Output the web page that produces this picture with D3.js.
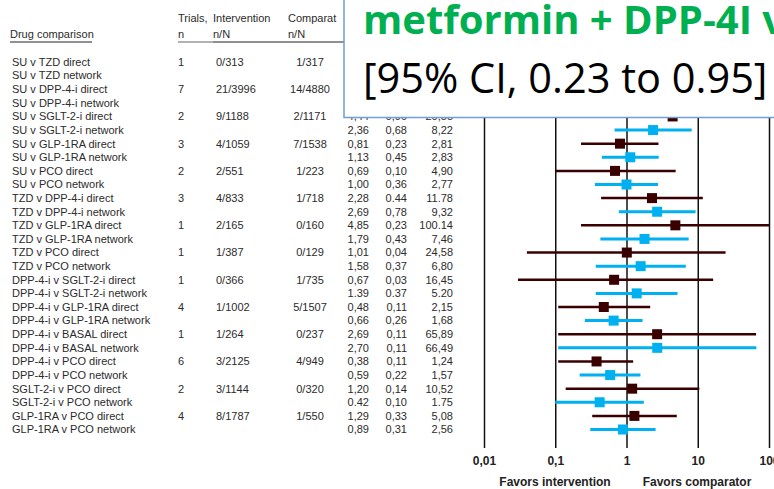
<!DOCTYPE html>
<html>
<head>
<meta charset="utf-8">
<script src="https://cdn.jsdelivr.net/npm/d3@7"></script>
<style>
body { margin: 0; background: #fff; }
text { font-family: "Liberation Sans", Arial, sans-serif; }
.row { font-size: 11px; fill: #2b2b2b; }
.axis text { font-family: "Liberation Sans", Arial, sans-serif; font-size: 12px; font-weight: bold; fill: #222; }
.favors { font-size: 12px; font-weight: bold; fill: #222; }
</style>
</head>
<body>
<div id="chart"></div>
<script>
// rows of the forest plot, top to bottom
var labels = ["SU v TZD direct", "SU v TZD network", "SU v DPP-4-i direct", "SU v DPP-4-i network",
    "SU v SGLT-2-i direct", "SU v SGLT-2-i network", "SU v GLP-1RA direct", "SU v GLP-1RA network",
    "SU v PCO direct", "SU v PCO network", "TZD v DPP-4-i direct", "TZD v DPP-4-i network",
    "TZD v GLP-1RA direct", "TZD v GLP-1RA network", "TZD v PCO direct", "TZD v PCO network",
    "DPP-4-i v SGLT-2-i direct", "DPP-4-i v SGLT-2-i network", "DPP-4-i v GLP-1RA direct", "DPP-4-i v GLP-1RA network",
    "DPP-4-i v BASAL direct", "DPP-4-i v BASAL network", "DPP-4-i v PCO direct", "DPP-4-i v PCO network",
    "SGLT-2-i v PCO direct", "SGLT-2-i v PCO network", "GLP-1RA v PCO direct", "GLP-1RA v PCO network"];
var trials = ["1", "", "7", "", "2", "", "3", "", "2", "", "3", "", "1", "", "1", "", "1", "", "4", "", "1", "", "6", "", "2", "", "4", ""];
var interventionN = ["0/313", "", "21/3996", "", "9/1188", "", "4/1059", "", "2/551", "", "4/833", "", "2/165", "", "1/387", "",
    "0/366", "", "1/1002", "", "1/264", "", "3/2125", "", "3/1144", "", "8/1787", ""];
var comparatorN = ["1/317", "", "14/4880", "", "2/1171", "", "7/1538", "", "1/223", "", "1/718", "", "0/160", "", "0/129", "",
    "1/735", "", "5/1507", "", "0/237", "", "4/949", "", "0/320", "", "1/550", ""];
// odds ratio and 95% CI (first rows sit under the overlay box, values estimated)
var orValues = [0.34, 0.72, 1.83, 1.75, 4.44, 2.36, 0.81, 1.13, 0.69, 1.00, 2.28, 2.69, 4.85, 1.79,
    1.01, 1.58, 0.67, 1.39, 0.48, 0.66, 2.69, 2.70, 0.38, 0.59, 1.20, 0.42, 1.29, 0.89];
var lowValues = [0.01, 0.21, 0.92, 0.86, 0.96, 0.68, 0.23, 0.45, 0.10, 0.36, 0.44, 0.78, 0.23, 0.43,
    0.04, 0.37, 0.03, 0.37, 0.11, 0.26, 0.11, 0.11, 0.11, 0.22, 0.14, 0.10, 0.33, 0.31];
var highValues = [8.35, 2.46, 3.64, 3.56, 20.55, 8.22, 2.81, 2.83, 4.90, 2.77, 11.78, 9.32, 100.14, 7.46,
    24.58, 6.80, 16.45, 5.20, 2.15, 1.68, 65.89, 66.49, 1.24, 1.57, 10.52, 1.75, 5.08, 2.56];
// printed text as in the table (mixed decimal marks); the first four rows are covered by the box
var orText = ["", "", "", "", "4,44", "2,36", "0,81", "1,13", "0,69", "1,00", "2,28", "2,69", "4,85", "1,79",
    "1,01", "1,58", "0,67", "1.39", "0,48", "0,66", "2,69", "2,70", "0,38", "0,59", "1,20", "0.42", "1,29", "0,89"];
var lowText = ["", "", "", "", "0,96", "0,68", "0,23", "0,45", "0,10", "0,36", "0.44", "0,78", "0,23", "0,43",
    "0,04", "0,37", "0,03", "0.37", "0,11", "0,26", "0,11", "0,11", "0,11", "0,22", "0,14", "0,10", "0,33", "0,31"];
var highText = ["", "", "", "", "20,55", "8,22", "2,81", "2,83", "4,90", "2,77", "11.78", "9,32", "100.14", "7,46",
    "24,58", "6,80", "16,45", "5.20", "2,15", "1,68", "65,89", "66,49", "1,24", "1,57", "10,52", "1.75", "5,08", "2,56"];
var tickVals = [0.01, 0.1, 1, 10, 100];
var tickLabels = ["0,01", "0,1", "1", "10", "100"];

var w = 774, h = 489;
var svg = d3.select("#chart").append("svg").attr("width", w).attr("height", h);

var yScale = d3.scalePoint().domain(d3.range(labels.length)).range([62, 429.5]);
var xScale = d3.scaleLog().domain([0.01, 100]).range([484, 769]);
var axisY = 448;

// header
svg.append("text").attr("class", "row").attr("x", 10).attr("y", 38).text("Drug comparison");
svg.append("line").attr("x1", 10).attr("x2", 92).attr("y1", 42).attr("y2", 42).attr("stroke", "#222").attr("stroke-width", 1);
svg.append("text").attr("class", "row").attr("x", 178).attr("y", 22).text("Trials,");
svg.append("text").attr("class", "row").attr("x", 178).attr("y", 38).text("n");
svg.append("text").attr("class", "row").attr("x", 213).attr("y", 22).text("Intervention");
svg.append("text").attr("class", "row").attr("x", 213).attr("y", 38).text("n/N");
svg.append("text").attr("class", "row").attr("x", 288).attr("y", 22).text("Comparat");
svg.append("text").attr("class", "row").attr("x", 288).attr("y", 38).text("n/N");
svg.append("line").attr("x1", 178).attr("x2", 213).attr("y1", 42).attr("y2", 42).attr("stroke", "#999").attr("stroke-width", 1.5);
svg.append("line").attr("x1", 213).attr("x2", 344).attr("y1", 42).attr("y2", 42).attr("stroke", "#222").attr("stroke-width", 1.2);

// table columns
var rows = svg.append("g").selectAll("g").data(labels).enter().append("g")
    .attr("transform", function(d, i) { return "translate(0," + yScale(i) + ")"; });
rows.append("text").attr("class", "row").attr("x", 12).attr("dy", "0.35em").text(function(d) { return d; });
rows.append("text").attr("class", "row").attr("x", 178).attr("dy", "0.35em").text(function(d, i) { return trials[i]; });
rows.append("text").attr("class", "row").attr("x", 216).attr("dy", "0.35em").text(function(d, i) { return interventionN[i]; });
rows.append("text").attr("class", "row").attr("x", 310).attr("dy", "0.35em").attr("text-anchor", "middle").text(function(d, i) { return comparatorN[i]; });
rows.append("text").attr("class", "row").attr("x", 369).attr("dy", "0.35em").attr("text-anchor", "end").text(function(d, i) { return orText[i]; });
rows.append("text").attr("class", "row").attr("x", 407).attr("dy", "0.35em").attr("text-anchor", "end").text(function(d, i) { return lowText[i]; });
rows.append("text").attr("class", "row").attr("x", 453).attr("dy", "0.35em").attr("text-anchor", "end").text(function(d, i) { return highText[i]; });

// grid lines + tick labels
var xAxis = d3.axisBottom(xScale).tickValues(tickVals)
    .tickFormat(function(d, i) { return tickLabels[i]; })
    .tickSize(-(axisY - 50)).tickPadding(8);
var gx = svg.append("g").attr("class", "axis").attr("transform", "translate(0," + axisY + ")").call(xAxis);
gx.select(".domain").remove();
gx.selectAll("line").attr("stroke", "#111").attr("stroke-width", 1.5);

svg.append("text").attr("class", "favors").attr("x", 555).attr("y", 486).attr("text-anchor", "middle").text("Favors intervention");
svg.append("text").attr("class", "favors").attr("x", 697).attr("y", 486).attr("text-anchor", "middle").text("Favors comparator");

// CI lines and squares: direct = dark maroon, network = light blue
function colour(i) { return i % 2 === 0 ? "#3a0000" : "#00b0f0"; }
var marks = svg.append("g").selectAll("g").data(labels).enter().append("g");
marks.append("line")
    .attr("x1", function(d, i) { return xScale(lowValues[i]); })
    .attr("x2", function(d, i) { return Math.min(xScale(highValues[i]), 769); })
    .attr("y1", function(d, i) { return yScale(i); })
    .attr("y2", function(d, i) { return yScale(i); })
    .attr("stroke", function(d, i) { return colour(i); })
    .attr("stroke-width", function(d, i) { return i % 2 === 0 ? 2.5 : 3; });
marks.append("rect")
    .attr("x", function(d, i) { return xScale(orValues[i]) - 5; })
    .attr("y", function(d, i) { return yScale(i) - 5; })
    .attr("width", 10).attr("height", 10)
    .attr("fill", function(d, i) { return colour(i); });

// overlay callout box
svg.append("rect").attr("x", 344).attr("y", -5).attr("width", 440).attr("height", 122.5)
    .attr("fill", "#fff").attr("stroke", "#6f9fd8").attr("stroke-width", 1.5);
svg.append("text").attr("x", 363).attr("y", 34)
    .style("font-family", "'Open Sans', 'Noto Sans', sans-serif").style("font-weight", "bold").style("font-size", "40px").style("fill", "#00b050")
    .text("metformin + DPP-4I v");
svg.append("text").attr("x", 363).attr("y", 93)
    .style("font-family", "'Open Sans', 'Noto Sans', sans-serif").style("font-size", "41.5px").style("fill", "#000")
    .text("[95% CI, 0.23 to 0.95]");
</script>
</body>
</html>
